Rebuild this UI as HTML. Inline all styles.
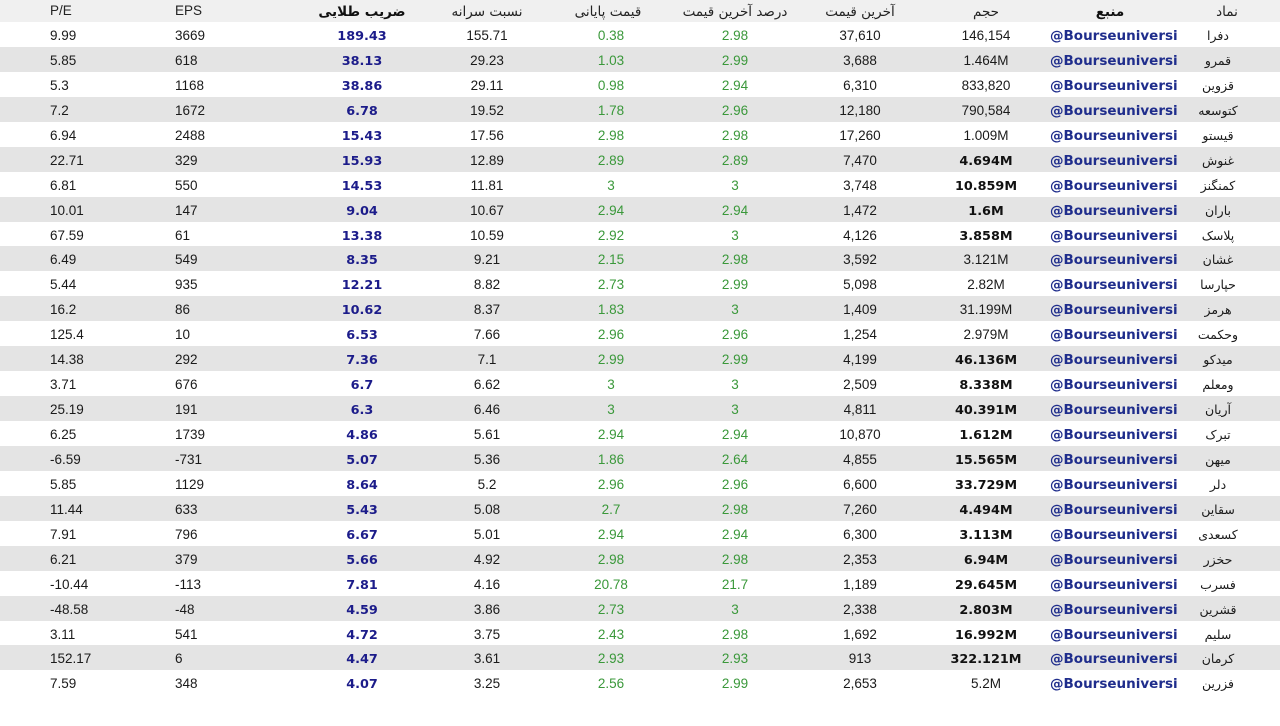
<!DOCTYPE html>
<html dir="ltr"><head><meta charset="utf-8">
<style>
html,body{margin:0;padding:0;background:#fff;}
body{width:1280px;height:726px;overflow:hidden;position:relative;font-family:"Liberation Sans",sans-serif;font-size:13.5px;color:#1a1a1a;direction:ltr;}
.hd{position:relative;height:22px;line-height:22px;background:#f0f0f0;}
.r{position:relative;height:24.95px;line-height:25px;background:#fff;}
.r:nth-child(even){background:#e4e4e4;}
.hd span,.r span{position:absolute;top:1px;white-space:nowrap;width:120px;text-align:center;direction:ltr;unicode-bidi:isolate;}
.hd span{top:0;}
.a{left:1158px;font-family:"DejaVu Sans",sans-serif;font-size:12.5px;}
.b{left:1050px;font-family:"DejaVu Sans",sans-serif;font-weight:bold;font-size:13.5px;color:#1f2d8c;}
.r .b,.r .h,.r .B{top:2px;}
.c{left:926px;}
.d{left:800px;}
.e{left:675px;color:#3a983a;}
.f{left:551px;color:#3a983a;}
.g{left:427px;}
.h{left:302px;font-family:"DejaVu Sans",sans-serif;font-weight:bold;font-size:12.8px;color:#1c1c8a;}
.i{left:175px;text-align:left !important;}
.j{left:50px;text-align:left !important;}
.B{font-family:"DejaVu Sans",sans-serif;font-weight:bold;font-size:12.8px;color:#111;}
.hd .p{font-family:"DejaVu Sans",sans-serif;font-size:13.5px;color:#222;font-weight:normal;top:1px;}
.hd .pb{font-family:"DejaVu Sans",sans-serif;font-size:13.5px;color:#111;font-weight:bold;top:1px;}
.hd .a{left:1167px;}
.hd .f{left:548px;}
.hd .l{color:#222;top:0;}
</style></head><body>
<div class="hd">
<span class="a p">نماد</span><span class="b pb" style="color:#111">منبع</span><span class="c p">حجم</span><span class="d p">آخرین قیمت</span><span class="e p">درصد آخرین قیمت</span><span class="f p">قیمت پایانی</span><span class="g p">نسبت سرانه</span><span class="h pb">ضریب طلایی</span><span class="i l">EPS</span><span class="j l">P/E</span>
</div>
<div id="t">
<div class="r"><span class="a">دفرا</span><span class="b">@Bourseuniversi</span><span class="c">146,154</span><span class="d">37,610</span><span class="e">2.98</span><span class="f">0.38</span><span class="g">155.71</span><span class="h">189.43</span><span class="i">3669</span><span class="j">9.99</span></div>
<div class="r"><span class="a">قمرو</span><span class="b">@Bourseuniversi</span><span class="c">1.464M</span><span class="d">3,688</span><span class="e">2.99</span><span class="f">1.03</span><span class="g">29.23</span><span class="h">38.13</span><span class="i">618</span><span class="j">5.85</span></div>
<div class="r"><span class="a">قزوین</span><span class="b">@Bourseuniversi</span><span class="c">833,820</span><span class="d">6,310</span><span class="e">2.94</span><span class="f">0.98</span><span class="g">29.11</span><span class="h">38.86</span><span class="i">1168</span><span class="j">5.3</span></div>
<div class="r"><span class="a">کتوسعه</span><span class="b">@Bourseuniversi</span><span class="c">790,584</span><span class="d">12,180</span><span class="e">2.96</span><span class="f">1.78</span><span class="g">19.52</span><span class="h">6.78</span><span class="i">1672</span><span class="j">7.2</span></div>
<div class="r"><span class="a">قیستو</span><span class="b">@Bourseuniversi</span><span class="c">1.009M</span><span class="d">17,260</span><span class="e">2.98</span><span class="f">2.98</span><span class="g">17.56</span><span class="h">15.43</span><span class="i">2488</span><span class="j">6.94</span></div>
<div class="r"><span class="a">غنوش</span><span class="b">@Bourseuniversi</span><span class="c B">4.694M</span><span class="d">7,470</span><span class="e">2.89</span><span class="f">2.89</span><span class="g">12.89</span><span class="h">15.93</span><span class="i">329</span><span class="j">22.71</span></div>
<div class="r"><span class="a">کمنگنز</span><span class="b">@Bourseuniversi</span><span class="c B">10.859M</span><span class="d">3,748</span><span class="e">3</span><span class="f">3</span><span class="g">11.81</span><span class="h">14.53</span><span class="i">550</span><span class="j">6.81</span></div>
<div class="r"><span class="a">باران</span><span class="b">@Bourseuniversi</span><span class="c B">1.6M</span><span class="d">1,472</span><span class="e">2.94</span><span class="f">2.94</span><span class="g">10.67</span><span class="h">9.04</span><span class="i">147</span><span class="j">10.01</span></div>
<div class="r"><span class="a">پلاسک</span><span class="b">@Bourseuniversi</span><span class="c B">3.858M</span><span class="d">4,126</span><span class="e">3</span><span class="f">2.92</span><span class="g">10.59</span><span class="h">13.38</span><span class="i">61</span><span class="j">67.59</span></div>
<div class="r"><span class="a">غشان</span><span class="b">@Bourseuniversi</span><span class="c">3.121M</span><span class="d">3,592</span><span class="e">2.98</span><span class="f">2.15</span><span class="g">9.21</span><span class="h">8.35</span><span class="i">549</span><span class="j">6.49</span></div>
<div class="r"><span class="a">حپارسا</span><span class="b">@Bourseuniversi</span><span class="c">2.82M</span><span class="d">5,098</span><span class="e">2.99</span><span class="f">2.73</span><span class="g">8.82</span><span class="h">12.21</span><span class="i">935</span><span class="j">5.44</span></div>
<div class="r"><span class="a">هرمز</span><span class="b">@Bourseuniversi</span><span class="c">31.199M</span><span class="d">1,409</span><span class="e">3</span><span class="f">1.83</span><span class="g">8.37</span><span class="h">10.62</span><span class="i">86</span><span class="j">16.2</span></div>
<div class="r"><span class="a">وحکمت</span><span class="b">@Bourseuniversi</span><span class="c">2.979M</span><span class="d">1,254</span><span class="e">2.96</span><span class="f">2.96</span><span class="g">7.66</span><span class="h">6.53</span><span class="i">10</span><span class="j">125.4</span></div>
<div class="r"><span class="a">میدکو</span><span class="b">@Bourseuniversi</span><span class="c B">46.136M</span><span class="d">4,199</span><span class="e">2.99</span><span class="f">2.99</span><span class="g">7.1</span><span class="h">7.36</span><span class="i">292</span><span class="j">14.38</span></div>
<div class="r"><span class="a">ومعلم</span><span class="b">@Bourseuniversi</span><span class="c B">8.338M</span><span class="d">2,509</span><span class="e">3</span><span class="f">3</span><span class="g">6.62</span><span class="h">6.7</span><span class="i">676</span><span class="j">3.71</span></div>
<div class="r"><span class="a">آریان</span><span class="b">@Bourseuniversi</span><span class="c B">40.391M</span><span class="d">4,811</span><span class="e">3</span><span class="f">3</span><span class="g">6.46</span><span class="h">6.3</span><span class="i">191</span><span class="j">25.19</span></div>
<div class="r"><span class="a">تبرک</span><span class="b">@Bourseuniversi</span><span class="c B">1.612M</span><span class="d">10,870</span><span class="e">2.94</span><span class="f">2.94</span><span class="g">5.61</span><span class="h">4.86</span><span class="i">1739</span><span class="j">6.25</span></div>
<div class="r"><span class="a">میهن</span><span class="b">@Bourseuniversi</span><span class="c B">15.565M</span><span class="d">4,855</span><span class="e">2.64</span><span class="f">1.86</span><span class="g">5.36</span><span class="h">5.07</span><span class="i">-731</span><span class="j">-6.59</span></div>
<div class="r"><span class="a">دلر</span><span class="b">@Bourseuniversi</span><span class="c B">33.729M</span><span class="d">6,600</span><span class="e">2.96</span><span class="f">2.96</span><span class="g">5.2</span><span class="h">8.64</span><span class="i">1129</span><span class="j">5.85</span></div>
<div class="r"><span class="a">سقاین</span><span class="b">@Bourseuniversi</span><span class="c B">4.494M</span><span class="d">7,260</span><span class="e">2.98</span><span class="f">2.7</span><span class="g">5.08</span><span class="h">5.43</span><span class="i">633</span><span class="j">11.44</span></div>
<div class="r"><span class="a">کسعدی</span><span class="b">@Bourseuniversi</span><span class="c B">3.113M</span><span class="d">6,300</span><span class="e">2.94</span><span class="f">2.94</span><span class="g">5.01</span><span class="h">6.67</span><span class="i">796</span><span class="j">7.91</span></div>
<div class="r"><span class="a">حخزر</span><span class="b">@Bourseuniversi</span><span class="c B">6.94M</span><span class="d">2,353</span><span class="e">2.98</span><span class="f">2.98</span><span class="g">4.92</span><span class="h">5.66</span><span class="i">379</span><span class="j">6.21</span></div>
<div class="r"><span class="a">فسرب</span><span class="b">@Bourseuniversi</span><span class="c B">29.645M</span><span class="d">1,189</span><span class="e">21.7</span><span class="f">20.78</span><span class="g">4.16</span><span class="h">7.81</span><span class="i">-113</span><span class="j">-10.44</span></div>
<div class="r"><span class="a">قشرین</span><span class="b">@Bourseuniversi</span><span class="c B">2.803M</span><span class="d">2,338</span><span class="e">3</span><span class="f">2.73</span><span class="g">3.86</span><span class="h">4.59</span><span class="i">-48</span><span class="j">-48.58</span></div>
<div class="r"><span class="a">سلیم</span><span class="b">@Bourseuniversi</span><span class="c B">16.992M</span><span class="d">1,692</span><span class="e">2.98</span><span class="f">2.43</span><span class="g">3.75</span><span class="h">4.72</span><span class="i">541</span><span class="j">3.11</span></div>
<div class="r"><span class="a">کرمان</span><span class="b">@Bourseuniversi</span><span class="c B">322.121M</span><span class="d">913</span><span class="e">2.93</span><span class="f">2.93</span><span class="g">3.61</span><span class="h">4.47</span><span class="i">6</span><span class="j">152.17</span></div>
<div class="r"><span class="a">فزرین</span><span class="b">@Bourseuniversi</span><span class="c">5.2M</span><span class="d">2,653</span><span class="e">2.99</span><span class="f">2.56</span><span class="g">3.25</span><span class="h">4.07</span><span class="i">348</span><span class="j">7.59</span></div>
</div>
</body></html>
